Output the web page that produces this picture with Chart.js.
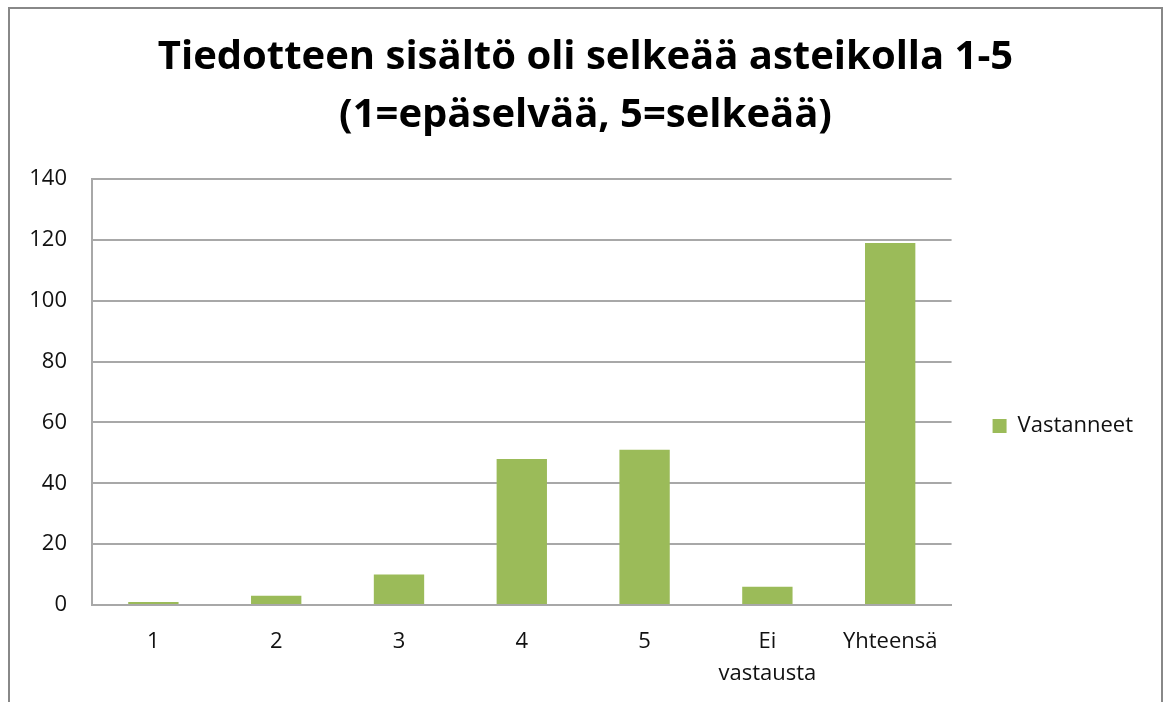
<!DOCTYPE html>
<html>
<head>
<meta charset="utf-8">
<script src="https://cdn.jsdelivr.net/npm/chart.js@4.4.0/dist/chart.umd.min.js"></script>
<style>
body{margin:0;background:#fff;}
#wrap{position:relative;width:1165px;height:702px;}
#frame{position:absolute;left:8px;top:7px;width:1151px;height:720px;border:2px solid #888;pointer-events:none;}
</style>
</head>
<body>
<div id="wrap">
  <canvas id="chart" width="1165" height="702"></canvas>
  <div id="frame"></div>
</div>
<script>
// chart data
var titleLines=["Tiedotteen sisältö oli selkeää asteikolla 1-5","(1=epäselvää, 5=selkeää)"];
var categories=["1","2","3","4","5",["Ei","vastausta"],"Yhteensä"];
var seriesName="Vastanneet";
var vastanneet=[1,3,10,48,51,6,119];
var yMin=0, yMax=140, yStep=20;

var barColor="#9bbb59";
var gridColor="#a8a8a8";
var fontFamily="'Open Sans', sans-serif";

var ctx=document.getElementById("chart");
var chart=new Chart(ctx,{
    type:'bar',
    data:{
        labels:categories,
        datasets:[
            {
                label:seriesName,
                data:vastanneet,
                backgroundColor:barColor,
                borderWidth:0,
                categoryPercentage:1,
                barPercentage:0.41
            }
        ]
    },
    options:{
        responsive:false,
        animation:false,
        events:[],
        layout:{padding:{left:28,right:22,top:0,bottom:0}},
        scales:{
            x:{
                grid:{display:false,drawTicks:false},
                border:{display:true,color:gridColor,width:2},
                ticks:{color:"#111",padding:21,maxRotation:0,autoSkip:false,
                    font:{family:fontFamily,size:22,lineHeight:'32px'}},
                afterFit:function(axis){ axis.height=97; }
            },
            y:{
                min:yMin,max:yMax,
                grid:{color:gridColor,lineWidth:2,drawTicks:false},
                border:{display:true,color:gridColor,width:2},
                ticks:{stepSize:yStep,color:"#111",padding:25,
                    font:{family:fontFamily,size:22}},
                afterFit:function(axis){ axis.width=64; }
            }
        },
        plugins:{
            title:{
                display:true,
                text:titleLines,
                color:"#000",
                padding:{top:29,bottom:34},
                font:{family:fontFamily,size:40,weight:'bold',lineHeight:'58px'}
            },
            legend:{
                display:true,
                position:'right',
                fullSize:false,
                title:{display:true,text:'',padding:{top:58,bottom:0},font:{size:10,lineHeight:1}},
                labels:{
                    boxWidth:14,boxHeight:14,padding:41,color:"#111",
                    font:{family:fontFamily,size:22}
                }
            },
            tooltip:{enabled:false}
        }
    }
});
</script>
</body>
</html>
